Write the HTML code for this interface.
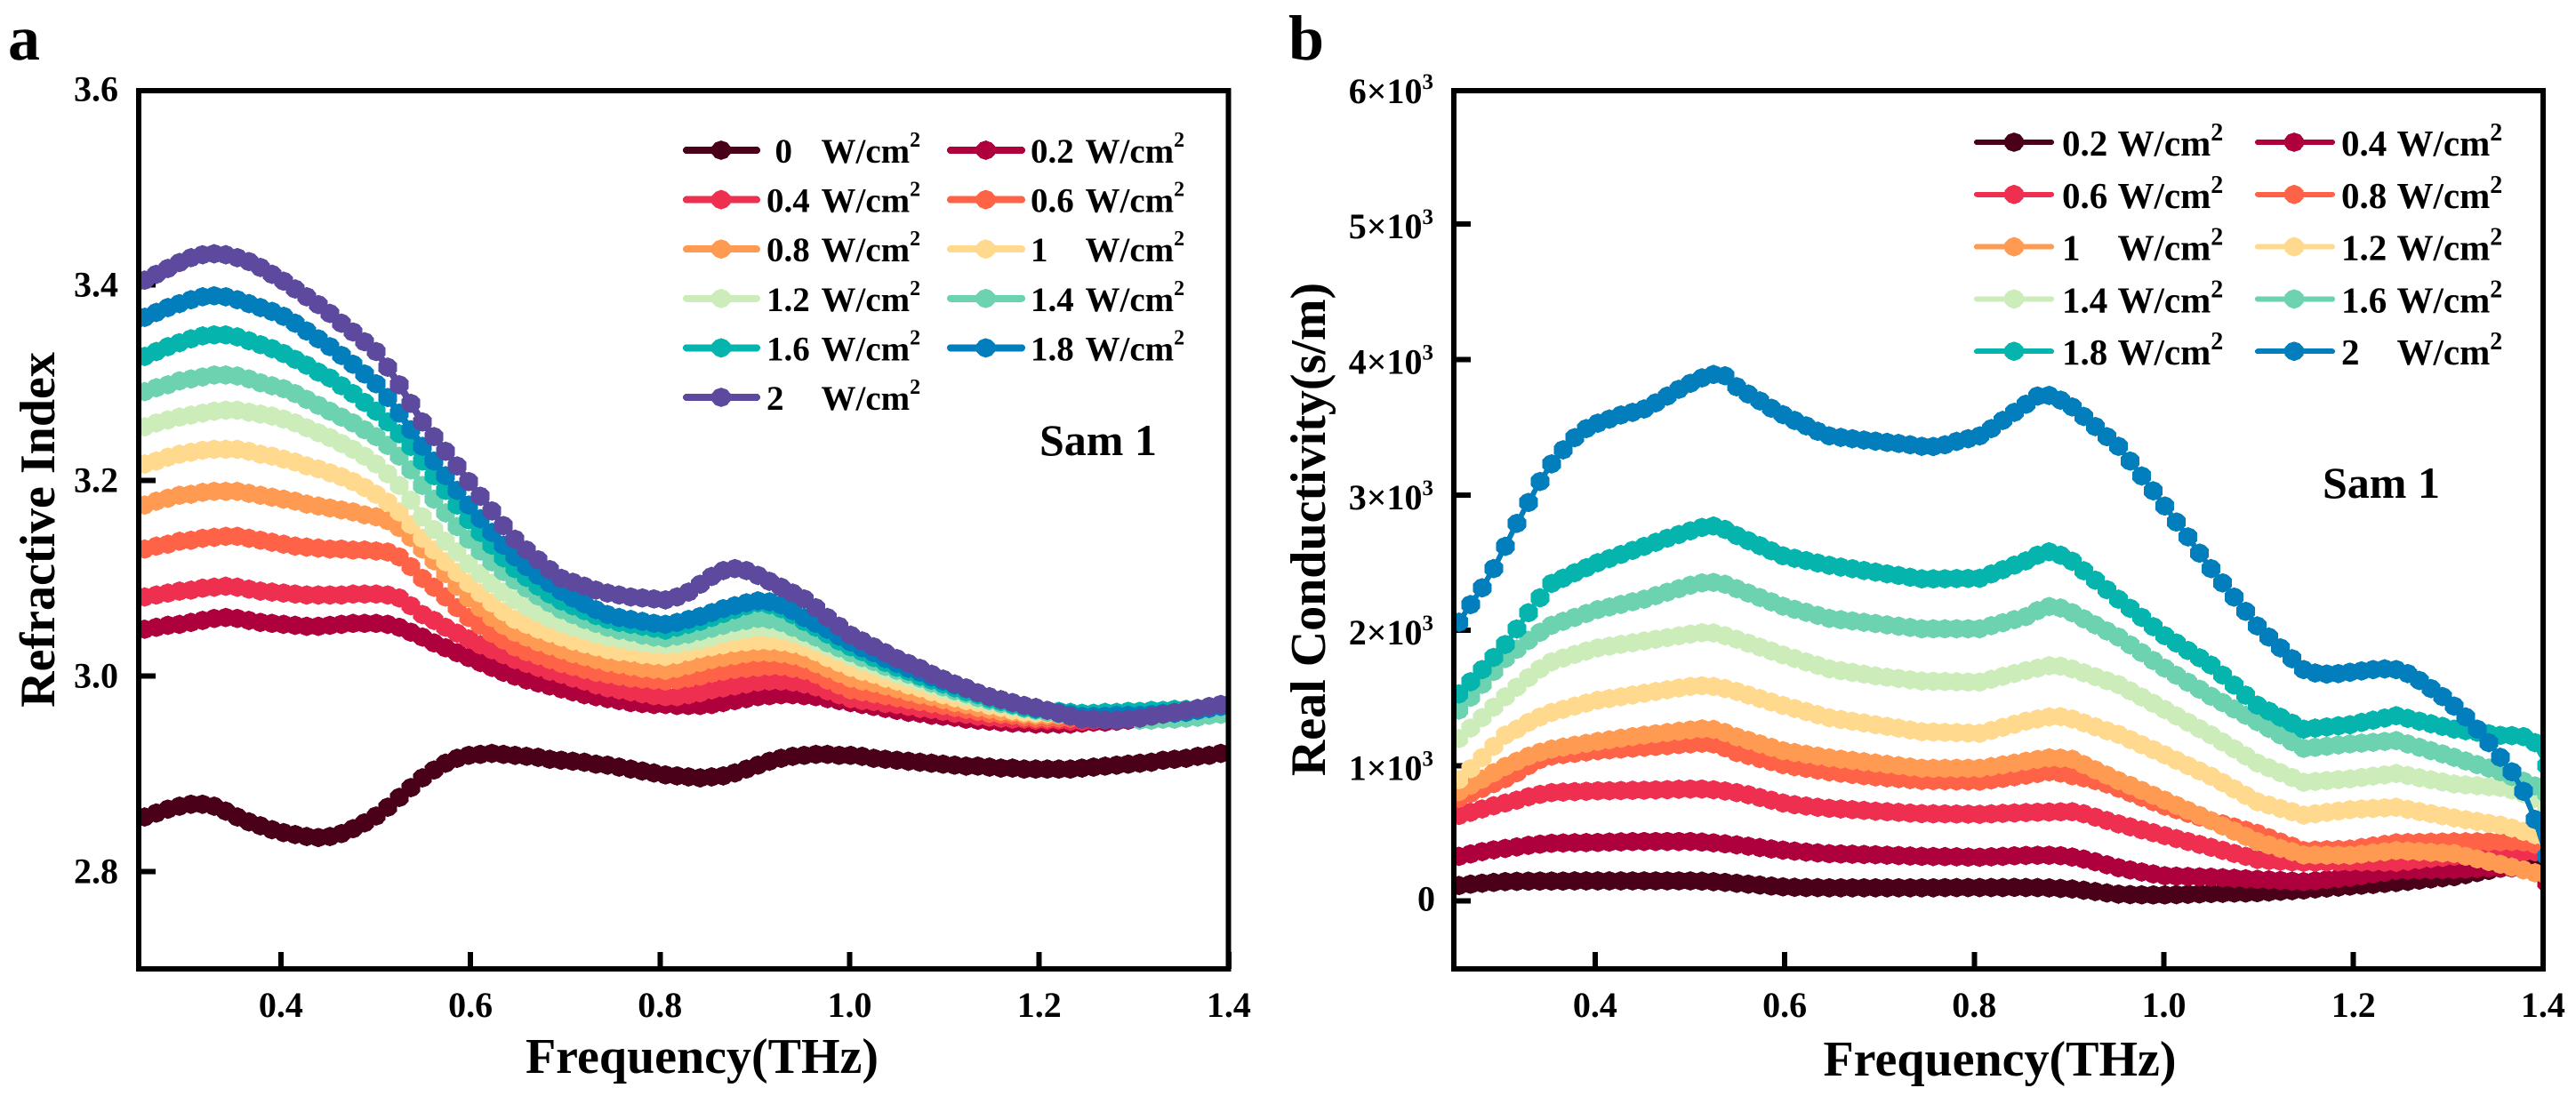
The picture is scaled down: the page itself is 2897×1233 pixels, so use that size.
<!DOCTYPE html>
<html lang="en">
<head>
<meta charset="utf-8">
<title>Refractive index and real conductivity vs frequency</title>
<style>
html,body{margin:0;padding:0;background:#fff;}
svg{display:block;}
text{font-family:"Liberation Serif",serif;font-weight:bold;fill:#000;white-space:pre;}
</style>
</head>
<body>
<svg id="figure" xmlns="http://www.w3.org/2000/svg" width="2897" height="1233" viewBox="0 0 2897 1233">
<defs>
<clipPath id="clip-a"><rect x="156" y="102" width="1225.5" height="988"/></clipPath>
<clipPath id="clip-b"><rect x="1635" y="102" width="1225" height="988"/></clipPath>
</defs>
<rect width="2897" height="1233" fill="#fff"/>
<text x="9" y="67" font-size="72">a</text>
<text x="1449" y="67" font-size="72">b</text>
<text x="789.5" y="1207" font-size="56" text-anchor="middle">Frequency(THz)</text>
<text x="2249" y="1210" font-size="56" text-anchor="middle">Frequency(THz)</text>
<text transform="translate(61,596) rotate(-90)" font-size="56" text-anchor="middle">Refractive Index</text>
<text transform="translate(1490,595.5) rotate(-90)" font-size="56" text-anchor="middle">Real Conductivity(s/m)</text>
<text x="1169" y="512" font-size="50">Sam 1</text>
<text x="2612" y="560" font-size="50">Sam 1</text>
<g id="panel-a"></g>
<g id="panel-b"></g>
</svg>
<script>
const freq=[.2441,.2563,.2686,.2808,.2930,.3052,.3174,.3296,.3418,.3540,.3662,.3784,.3906,.4028,.4150,.4272,.4395,.4517,.4639,.4761,.4883,.5005,.5127,.5249,.5371,.5493,.5615,.5737,.5859,.5981,.6104,.6226,.6348,.6470,.6592,.6714,.6836,.6958,.7080,.7202,.7324,.7446,.7568,.7690,.7813,.7935,.8057,.8179,.8301,.8423,.8545,.8667,.8789,.8911,.9033,.9155,.9277,.9399,.9521,.9644,.9766,.9888,1.0010,1.0132,1.0254,1.0376,1.0498,1.0620,1.0742,1.0864,1.0986,1.1108,1.1230,1.1353,1.1475,1.1597,1.1719,1.1841,1.1963,1.2085,1.2207,1.2329,1.2451,1.2573,1.2695,1.2817,1.2939,1.3062,1.3184,1.3306,1.3428,1.3550,1.3672,1.3794,1.3916,1.4038];

const xTickValues=[0.4,0.6,0.8,1.0,1.2,1.4];
const xTickLabels=['0.4','0.6','0.8','1.0','1.2','1.4'];
const yTickValuesA=[2.8,3.0,3.2,3.4,3.6];
const yTickLabelsA=['2.8','3.0','3.2','3.4','3.6'];
const yTickValuesB=[0,1000,2000,3000,4000,5000,6000];
const yTickLabelsB=['0','1×10','2×10','3×10','4×10','5×10','6×10'];

const legendNamesA=['0','0.2','0.4','0.6','0.8','1','1.2','1.4','1.6','1.8','2'];
const legendNamesB=['0.2','0.4','0.6','0.8','1','1.2','1.4','1.6','1.8','2'];
const colorsA=['#4a0018','#ad003d','#ee2f50','#ff6347','#ff9a53','#fed98e','#ccecba','#6dd2b0','#04b4ad','#027ebc','#5d4a9e'];
const colorsB=['#4a0018','#ad003d','#ee2f50','#ff6347','#ff9a53','#fed98e','#ccecba','#6dd2b0','#04b4ad','#027ebc'];

const refr0=[2.853,2.856,2.860,2.864,2.867,2.869,2.869,2.867,2.862,2.856,2.851,2.847,2.843,2.840,2.838,2.836,2.835,2.836,2.839,2.844,2.850,2.857,2.866,2.876,2.886,2.896,2.904,2.911,2.916,2.919,2.920,2.921,2.920,2.919,2.918,2.917,2.915,2.914,2.913,2.912,2.910,2.909,2.907,2.905,2.903,2.901,2.899,2.898,2.897,2.896,2.897,2.898,2.901,2.905,2.909,2.913,2.916,2.918,2.919,2.920,2.920,2.919,2.919,2.918,2.916,2.915,2.914,2.913,2.912,2.911,2.910,2.909,2.908,2.908,2.907,2.906,2.906,2.905,2.905,2.905,2.905,2.905,2.906,2.907,2.908,2.909,2.910,2.911,2.912,2.914,2.915,2.916,2.918,2.919,2.921,2.922];
const refr02=[3.047,3.048,3.050,3.052,3.053,3.055,3.057,3.059,3.060,3.059,3.057,3.055,3.054,3.053,3.052,3.051,3.051,3.052,3.053,3.054,3.054,3.054,3.053,3.050,3.045,3.040,3.034,3.029,3.024,3.019,3.014,3.009,3.004,3.000,2.996,2.993,2.990,2.987,2.984,2.981,2.979,2.977,2.975,2.973,2.972,2.971,2.971,2.970,2.970,2.970,2.971,2.973,2.975,2.977,2.979,2.980,2.981,2.981,2.980,2.979,2.977,2.975,2.973,2.971,2.969,2.967,2.965,2.963,2.962,2.960,2.959,2.958,2.956,2.955,2.954,2.953,2.952,2.952,2.951,2.951,2.951,2.951,2.952,2.953,2.953,2.954,2.955,2.956,2.957,2.958,2.959,2.960,2.961,2.961,2.962,2.962];
const refr04=[3.079,3.081,3.083,3.085,3.087,3.088,3.090,3.091,3.092,3.091,3.089,3.087,3.086,3.085,3.084,3.083,3.083,3.083,3.083,3.084,3.084,3.084,3.083,3.080,3.072,3.063,3.057,3.050,3.044,3.038,3.032,3.027,3.022,3.017,3.013,3.009,3.005,3.002,2.998,2.995,2.991,2.988,2.986,2.984,2.982,2.980,2.979,2.979,2.981,2.983,2.986,2.988,2.990,2.992,2.994,2.995,2.995,2.994,2.992,2.989,2.985,2.981,2.977,2.975,2.974,2.972,2.971,2.969,2.967,2.966,2.964,2.962,2.961,2.959,2.958,2.957,2.956,2.956,2.955,2.955,2.955,2.954,2.954,2.955,2.955,2.956,2.956,2.957,2.958,2.958,2.959,2.960,2.961,2.962,2.963,2.965];
const refr06=[3.127,3.130,3.133,3.135,3.138,3.139,3.141,3.142,3.143,3.143,3.141,3.139,3.137,3.135,3.133,3.132,3.131,3.130,3.130,3.129,3.129,3.128,3.127,3.122,3.112,3.100,3.091,3.081,3.070,3.060,3.052,3.044,3.037,3.030,3.025,3.021,3.017,3.013,3.010,3.007,3.004,3.002,3.000,2.998,2.997,2.996,2.995,2.996,2.998,3.000,3.003,3.005,3.007,3.008,3.009,3.010,3.010,3.008,3.006,3.002,2.996,2.991,2.986,2.984,2.982,2.980,2.978,2.976,2.974,2.972,2.970,2.968,2.966,2.964,2.962,2.961,2.960,2.958,2.957,2.957,2.957,2.957,2.957,2.957,2.958,2.959,2.959,2.960,2.960,2.961,2.961,2.962,2.963,2.965,2.966,2.968];
const refr08=[3.172,3.175,3.179,3.182,3.185,3.186,3.188,3.189,3.189,3.189,3.187,3.185,3.183,3.181,3.179,3.176,3.174,3.172,3.170,3.168,3.165,3.163,3.159,3.152,3.142,3.130,3.118,3.105,3.092,3.080,3.070,3.060,3.052,3.045,3.040,3.035,3.031,3.027,3.023,3.020,3.017,3.014,3.012,3.010,3.008,3.007,3.006,3.008,3.011,3.014,3.017,3.019,3.021,3.023,3.024,3.024,3.023,3.021,3.018,3.013,3.008,3.003,2.998,2.995,2.993,2.990,2.987,2.984,2.981,2.979,2.976,2.973,2.971,2.968,2.966,2.964,2.963,2.961,2.960,2.960,2.960,2.960,2.961,2.961,2.962,2.963,2.963,2.964,2.964,2.964,2.964,2.964,2.965,2.966,2.968,2.969];
const refr10=[3.213,3.217,3.220,3.224,3.227,3.229,3.231,3.232,3.232,3.232,3.230,3.227,3.225,3.222,3.219,3.215,3.212,3.208,3.204,3.199,3.193,3.186,3.178,3.168,3.155,3.141,3.129,3.117,3.106,3.095,3.085,3.075,3.066,3.058,3.053,3.048,3.044,3.040,3.036,3.033,3.030,3.027,3.025,3.024,3.022,3.021,3.020,3.022,3.025,3.028,3.030,3.032,3.034,3.035,3.036,3.036,3.035,3.033,3.030,3.025,3.019,3.014,3.009,3.005,3.002,2.998,2.995,2.991,2.988,2.984,2.981,2.978,2.975,2.973,2.970,2.968,2.965,2.963,2.962,2.962,2.962,2.962,2.962,2.962,2.963,2.963,2.964,2.964,2.964,2.965,2.965,2.965,2.966,2.967,2.969,2.970];
const refr12=[3.252,3.255,3.259,3.262,3.265,3.267,3.269,3.271,3.272,3.272,3.270,3.268,3.266,3.263,3.259,3.254,3.249,3.244,3.238,3.232,3.225,3.217,3.207,3.195,3.180,3.163,3.150,3.138,3.127,3.115,3.105,3.095,3.086,3.078,3.071,3.065,3.059,3.054,3.050,3.047,3.043,3.040,3.038,3.036,3.034,3.033,3.032,3.033,3.035,3.037,3.040,3.043,3.046,3.048,3.050,3.049,3.047,3.044,3.040,3.035,3.030,3.025,3.020,3.015,3.011,3.006,3.002,2.998,2.994,2.990,2.986,2.983,2.979,2.976,2.973,2.971,2.968,2.966,2.964,2.963,2.962,2.961,2.960,2.960,2.961,2.961,2.962,2.962,2.963,2.963,2.964,2.964,2.965,2.966,2.968,2.969];
const refr14=[3.287,3.291,3.295,3.298,3.302,3.304,3.306,3.308,3.308,3.307,3.304,3.300,3.297,3.294,3.289,3.283,3.277,3.271,3.265,3.259,3.252,3.245,3.236,3.225,3.211,3.195,3.181,3.167,3.153,3.140,3.128,3.117,3.107,3.098,3.090,3.082,3.075,3.068,3.063,3.058,3.054,3.050,3.047,3.045,3.042,3.040,3.039,3.041,3.043,3.046,3.049,3.052,3.055,3.057,3.059,3.058,3.055,3.050,3.045,3.040,3.034,3.029,3.024,3.019,3.015,3.010,3.006,3.002,2.998,2.993,2.989,2.985,2.982,2.978,2.975,2.972,2.970,2.967,2.965,2.963,2.961,2.960,2.958,2.958,2.957,2.956,2.956,2.955,2.955,2.956,2.956,2.957,2.958,2.960,2.961,2.963];
const refr16=[3.323,3.327,3.332,3.337,3.341,3.345,3.348,3.349,3.349,3.347,3.343,3.339,3.335,3.330,3.324,3.318,3.311,3.305,3.297,3.289,3.280,3.271,3.260,3.248,3.235,3.220,3.205,3.190,3.175,3.160,3.147,3.134,3.121,3.110,3.101,3.092,3.084,3.077,3.072,3.067,3.062,3.058,3.055,3.053,3.051,3.049,3.047,3.050,3.053,3.056,3.060,3.064,3.068,3.072,3.075,3.073,3.069,3.063,3.056,3.050,3.043,3.036,3.030,3.025,3.019,3.014,3.009,3.005,3.000,2.996,2.992,2.988,2.984,2.981,2.977,2.974,2.971,2.968,2.966,2.965,2.964,2.963,2.962,2.962,2.963,2.963,2.964,2.964,2.965,2.965,2.966,2.966,2.967,2.968,2.969,2.970];
const refr18=[3.362,3.367,3.372,3.377,3.381,3.385,3.388,3.389,3.388,3.385,3.381,3.377,3.373,3.368,3.361,3.353,3.345,3.337,3.328,3.319,3.309,3.299,3.285,3.269,3.252,3.235,3.220,3.205,3.190,3.175,3.161,3.147,3.134,3.122,3.112,3.103,3.095,3.087,3.080,3.074,3.068,3.063,3.060,3.058,3.056,3.054,3.053,3.055,3.058,3.061,3.065,3.069,3.072,3.075,3.077,3.076,3.073,3.067,3.060,3.054,3.048,3.041,3.035,3.029,3.024,3.018,3.013,3.008,3.004,2.999,2.995,2.991,2.987,2.983,2.979,2.976,2.973,2.970,2.967,2.965,2.963,2.961,2.959,2.959,2.959,2.960,2.960,2.960,2.961,2.962,2.962,2.963,2.965,2.967,2.969,2.971];
const refr20=[3.400,3.405,3.411,3.417,3.423,3.428,3.431,3.432,3.431,3.428,3.424,3.418,3.411,3.404,3.396,3.388,3.380,3.371,3.361,3.352,3.342,3.332,3.316,3.298,3.279,3.260,3.245,3.230,3.215,3.199,3.184,3.169,3.154,3.140,3.129,3.119,3.109,3.100,3.096,3.092,3.088,3.085,3.083,3.081,3.080,3.079,3.078,3.081,3.086,3.094,3.102,3.108,3.110,3.108,3.103,3.097,3.091,3.085,3.079,3.070,3.060,3.051,3.042,3.036,3.030,3.024,3.018,3.013,3.008,3.002,2.997,2.992,2.988,2.983,2.979,2.976,2.973,2.970,2.968,2.965,2.962,2.959,2.956,2.956,2.955,2.955,2.956,2.957,2.959,2.961,2.963,2.965,2.967,2.969,2.971,2.973];

const cond02=[105,115,125,132,138,144,146,147,148,148,148,149,149,149,149,149,149,149,149,149,149,149,147,143,138,131,125,118,111,105,102,100,99,98,98,98,98,98,98,98,98,98,98,99,99,100,100,100,100,101,100,99,97,93,89,80,70,60,51,48,46,45,45,47,50,53,56,57,59,60,62,67,72,77,82,89,96,103,110,117,123,130,137,145,154,163,172,180,195,210,226,242,255,268,280,290];
const cond04=[312,330,348,365,378,389,400,412,420,427,429,431,432,433,435,437,439,440,440,440,440,440,436,430,423,415,405,395,385,376,369,362,356,350,348,346,344,342,339,336,333,330,329,328,327,325,324,327,330,334,337,338,338,335,325,310,290,268,246,230,215,200,187,184,181,178,176,172,168,164,160,156,152,147,143,150,158,167,176,188,200,213,226,228,230,231,232,233,236,240,243,246,245,235,209,135];
const cond06=[608,632,656,680,704,724,745,770,788,801,805,808,811,814,815,816,818,819,821,823,826,827,827,822,813,801,785,765,745,724,712,702,693,685,680,675,670,664,660,655,650,646,645,644,643,642,641,644,648,651,654,656,658,659,660,645,620,595,570,548,526,505,483,461,440,418,397,375,352,330,307,300,295,290,286,287,288,289,290,289,288,287,286,295,305,315,323,331,335,338,342,345,352,360,364,330];
const cond08=[724,760,796,832,868,904,948,1000,1045,1071,1082,1091,1101,1110,1117,1123,1130,1136,1142,1148,1155,1161,1166,1160,1132,1097,1075,1052,1030,1007,993,980,967,955,945,935,926,917,910,904,897,891,890,889,888,887,886,895,906,918,930,942,955,945,925,910,890,865,833,800,767,734,701,675,648,621,594,570,547,523,500,468,436,405,373,376,379,381,384,395,407,418,430,432,433,435,436,438,438,438,438,438,440,436,420,380];
const cond10=[762,808,855,901,948,994,1032,1070,1100,1123,1137,1151,1165,1179,1191,1203,1215,1226,1236,1245,1255,1264,1272,1268,1245,1213,1187,1161,1135,1110,1097,1084,1071,1058,1048,1039,1029,1020,1010,1000,990,981,980,980,980,980,981,993,1006,1019,1033,1046,1058,1055,1047,1008,969,930,890,854,817,781,745,707,670,632,594,555,516,478,439,414,389,365,340,340,339,339,338,347,356,364,373,369,365,360,355,351,331,311,292,272,251,230,209,187];
const cond12=[814,896,978,1060,1143,1226,1270,1320,1360,1393,1416,1440,1462,1483,1496,1509,1522,1535,1548,1561,1574,1586,1590,1585,1570,1548,1522,1496,1470,1445,1422,1400,1377,1354,1341,1328,1316,1303,1290,1277,1264,1251,1249,1246,1244,1241,1239,1260,1283,1306,1329,1345,1360,1362,1345,1316,1287,1258,1231,1193,1155,1118,1080,1040,1000,961,922,875,828,781,734,709,684,660,635,645,655,665,675,680,684,689,693,677,661,646,630,614,601,588,574,561,540,515,490,463];
const cond14=[1123,1200,1278,1355,1432,1509,1580,1650,1715,1767,1795,1822,1847,1870,1883,1896,1908,1921,1934,1946,1959,1972,1982,1980,1960,1934,1905,1876,1847,1818,1792,1766,1741,1715,1702,1689,1676,1663,1653,1644,1634,1625,1623,1622,1620,1618,1617,1638,1660,1681,1702,1720,1738,1735,1715,1686,1657,1628,1599,1553,1507,1461,1415,1368,1321,1274,1227,1175,1124,1072,1020,984,948,913,877,884,890,897,903,913,923,932,942,927,911,896,880,865,858,852,845,839,820,795,760,701];
const cond16=[1316,1411,1506,1601,1696,1792,1860,1925,1985,2037,2066,2095,2124,2153,2172,2191,2211,2230,2256,2282,2307,2333,2350,2354,2340,2307,2275,2242,2210,2178,2155,2133,2110,2088,2078,2069,2059,2050,2040,2030,2021,2011,2011,2011,2011,2011,2011,2034,2056,2079,2101,2145,2175,2165,2130,2085,2040,1995,1950,1892,1835,1777,1720,1668,1616,1565,1513,1466,1419,1372,1325,1276,1227,1177,1128,1136,1144,1153,1161,1167,1173,1179,1185,1160,1136,1111,1087,1062,1035,1008,982,955,920,885,850,790];
const cond18=[1440,1530,1620,1710,1800,1895,2010,2130,2240,2346,2385,2425,2462,2500,2530,2560,2590,2620,2650,2680,2707,2735,2760,2770,2745,2700,2662,2625,2587,2550,2532,2515,2497,2480,2467,2455,2442,2430,2417,2405,2392,2380,2380,2381,2382,2383,2384,2416,2448,2481,2513,2555,2580,2555,2510,2440,2370,2300,2230,2162,2095,2027,1960,1906,1851,1797,1743,1669,1595,1521,1447,1403,1358,1314,1270,1278,1286,1295,1303,1320,1336,1352,1369,1349,1329,1310,1290,1270,1259,1247,1236,1224,1222,1215,1170,1000];
const cond20=[1960,2060,2190,2314,2456,2620,2790,2944,3099,3229,3333,3423,3490,3530,3560,3590,3610,3635,3680,3730,3780,3825,3865,3890,3880,3799,3745,3695,3640,3593,3550,3510,3470,3436,3425,3415,3405,3397,3388,3380,3370,3359,3358,3370,3395,3415,3436,3490,3550,3610,3670,3730,3735,3700,3650,3580,3505,3430,3359,3250,3140,3030,2918,2800,2690,2570,2456,2350,2245,2140,2032,1950,1870,1790,1710,1685,1677,1680,1690,1700,1710,1715,1710,1680,1630,1570,1510,1440,1360,1270,1170,1062,955,811,603,330];

const seriesA=[refr0,refr02,refr04,refr06,refr08,refr10,refr12,refr14,refr16,refr18,refr20];
const seriesB=[cond02,cond04,cond06,cond08,cond10,cond12,cond14,cond16,cond18,cond20];

const NS='http://www.w3.org/2000/svg';
const MARKER_SHAPE='0,-11 6.3,-8.8 10.5,-4.4 10.5,4.4 6.3,8.8 0,11 -6.3,8.8 -10.5,4.4 -10.5,-4.4 -6.3,-8.8';
function make(parent,tag,attrs,content){
  const el=document.createElementNS(NS,tag);
  for(const k in attrs){el.setAttribute(k,attrs[k]);}
  if(content!==undefined){el.textContent=content;}
  parent.appendChild(el);
  return el;
}
function xA(f){return 156+(f-0.25)*1066;}
function yA(v){return 980.7-(v-2.8)*1100;}
function xB(f){return 1634+(f-0.25)*1066;}
function yB(v){return 1013.7-v*0.1523;}

function drawPanel(root,o){
  const ticks=make(root,'g',{});
  
  
  o.xTicks.forEach(function(t,i){
    const tick=make(ticks,'line',{x1:o.x(t),x2:o.x(t),y1:1071,y2:1090,stroke:'#000','stroke-width':6,'shape-rendering':'crispEdges'});
    
    
    const lab=make(ticks,'text',{x:o.x(t),y:1144,'font-size':40,'text-anchor':'middle'},o.xLabels[i]);
    
    
  });
  o.yTicks.forEach(function(t,i){
    const tickY=Math.max(o.y(t),102);
    const tick=make(ticks,'line',{x1:o.left,x2:o.left+19,y1:tickY,y2:tickY,stroke:'#000','stroke-width':6,'shape-rendering':'crispEdges'});
    
    
    const isSup=o.yLabels[i].indexOf('×')>=0;
    const base=o.y(t)+(o.sup?(isSup?16:11):13);
    const lab=make(ticks,'text',{x:o.sup?(isSup?1612:1614):133,y:base,'font-size':40,'text-anchor':'end'},o.yLabels[i]);
    
    
    if(isSup){make(lab,'tspan',{dy:-16,'font-size':25},'3');}
  });
  const plot=make(root,'g',{'clip-path':'url(#'+o.clip+')','shape-rendering':'crispEdges'});
  
  
  o.series.forEach(function(vals,s){
    const grp=make(plot,'g',{});
    
    
    const pts=vals.map(function(v,i){return o.x(freq[i]).toFixed(1)+','+o.y(v).toFixed(1);}).join(' ');
    const line=make(grp,'polyline',{points:pts,fill:'none',stroke:o.colors[s],'stroke-width':o.lineW});
    
    
    vals.forEach(function(v,i){
      const dot=make(grp,'polygon',{points:MARKER_SHAPE,transform:'translate('+o.x(freq[i]).toFixed(1)+','+o.y(v).toFixed(1)+')',fill:o.colors[s]});
      
      
    });
  });
  const frame=make(root,'rect',{x:o.left,y:102,width:o.right-o.left,height:988,fill:'none',stroke:'#000','stroke-width':6,'shape-rendering':'crispEdges'});
  
  
  const legend=make(root,'g',{});
  
  
  o.names.forEach(function(name,i){
    const col=i%2, row=Math.floor(i/2);
    const L=o.leg, cy=L.top+row*L.gap;
    const entry=make(legend,'g',{});
    
    
    make(entry,'line',{x1:L.x1[col],x2:L.x2[col],y1:cy,y2:cy,stroke:o.colors[i],'stroke-width':L.lw,'stroke-linecap':'round','shape-rendering':'crispEdges'});
    make(entry,'polygon',{points:MARKER_SHAPE,transform:'translate('+L.mx[col]+','+cy+')',fill:o.colors[i],'shape-rendering':'crispEdges'});
    const tx=L.tx[col];
    const numX=(name==='0')?tx+9.5:tx;
    const t=make(entry,'text',{y:cy+L.base,'font-size':L.fs});
    make(t,'tspan',{x:numX},name);
    make(t,'tspan',{x:tx+L.unitGap},'W/cm');
    make(t,'tspan',{dy:-L.raise,'font-size':L.sfs},'2');
  });
}

drawPanel(document.getElementById('panel-a'),{
  x:xA,y:yA,left:156,right:1381.5,clip:'clip-a',sup:false,lineW:8,
  xTicks:xTickValues,xLabels:xTickLabels,yTicks:yTickValuesA,yLabels:yTickLabelsA,
  series:seriesA,names:legendNamesA,colors:colorsA,
  leg:{top:169,gap:55.6,x1:[772,1069],x2:[851,1149],mx:[811,1108.6],tx:[862,1159],lw:8,base:14,fs:39,sfs:24,raise:18,unitGap:61.5}
});
drawPanel(document.getElementById('panel-b'),{
  x:xB,y:yB,left:1635,right:2860,clip:'clip-b',sup:true,lineW:6,
  xTicks:xTickValues,xLabels:xTickLabels,yTicks:yTickValuesB,yLabels:yTickLabelsB,
  series:seriesB,names:legendNamesB,colors:colorsB,
  leg:{top:160,gap:58.8,x1:[2223,2539],x2:[2307,2623],mx:[2265,2580],tx:[2319,2633],lw:6,base:15,fs:41,sfs:28,raise:17,unitGap:62.5}
});
</script>
</body>
</html>
